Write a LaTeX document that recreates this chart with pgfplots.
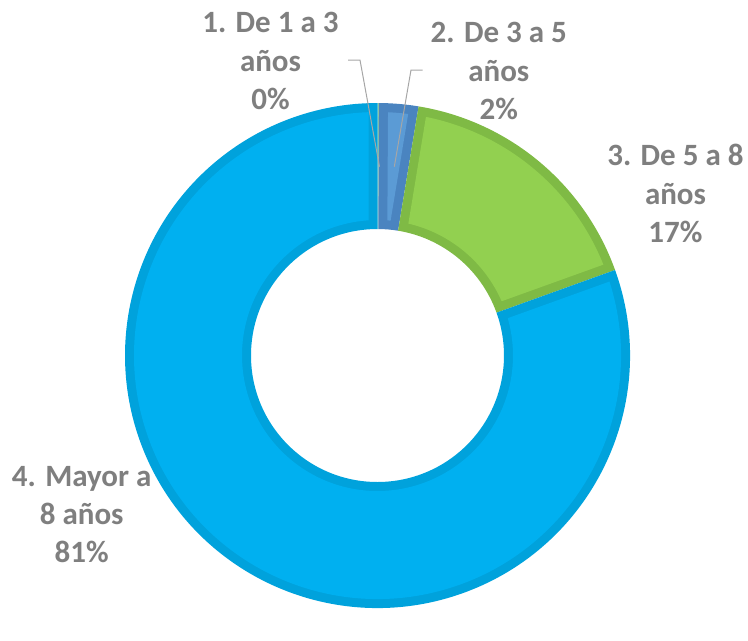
\documentclass[border=0pt]{standalone}
\usepackage{pgfplots}
\pgfplotsset{compat=1.18}
\usepackage{pgfplotstable}
\usepackage{fontspec}
\setmainfont{Carlito}
\usetikzlibrary{calc}
\definecolor{lblue}{HTML}{00B0F0}
\definecolor{dblue}{HTML}{00A2DC}
\definecolor{lgreen}{HTML}{92D050}
\definecolor{dgreen}{HTML}{7FBA45}
\definecolor{lsteel}{HTML}{5B9BD5}
\definecolor{dsteel}{HTML}{4A84C0}
\definecolor{sone}{HTML}{8CC3A0}
\definecolor{txt}{HTML}{7F7F7F}
\definecolor{leader}{HTML}{A6A6A6}

% share of each category (percent)
\pgfplotstableread{
slice value
1 0.1
2 2.5
3 16.9
4 80.5
}\donutdata

% outer border wedge (dark colour)
\newcommand\wedgeborder[3]{%
  \fill[#3] (axis cs:377.5,355.5) ++(#1:252.5pt)
    arc[start angle=#1, end angle=#2, radius=252.5pt]
    -- ($(axis cs:377.5,355.5)+(#2:126.5pt)$)
    arc[start angle=#2, end angle=#1, radius=126.5pt] -- cycle;}
% inner fill inset by 9pt (light colour)
\newcommand\wedgefill[3]{%
  \fill[#3] (axis cs:377.5,355.5) ++({#1-\dO}:243.5pt)
    arc[start angle={#1-\dO}, end angle={#2+\dO}, radius=243.5pt]
    -- ($(axis cs:377.5,355.5)+({#2+\dI}:135.5pt)$)
    arc[start angle={#2+\dI}, end angle={#1-\dI}, radius=135.5pt] -- cycle;}

\tikzset{lbl/.style={txt, anchor=base, inner sep=0pt,
  font=\fontsize{31}{37}\selectfont\bfseries}}

\begin{document}
\begin{tikzpicture}
\pgfplotstablegetelem{0}{value}\of\donutdata \let\vA\pgfplotsretval
\pgfplotstablegetelem{1}{value}\of\donutdata \let\vB\pgfplotsretval
\pgfplotstablegetelem{2}{value}\of\donutdata \let\vC\pgfplotsretval
\pgfplotstablegetelem{3}{value}\of\donutdata \let\vD\pgfplotsretval
\pgfmathsetmacro\aA{90}
\pgfmathsetmacro\aB{\aA-3.6*\vA}
\pgfmathsetmacro\aC{\aB-3.6*\vB}
\pgfmathsetmacro\aD{\aC-3.6*\vC}
\pgfmathsetmacro\aE{\aD-3.6*\vD}
\pgfmathsetmacro\dO{asin(9/243.5)}
\pgfmathsetmacro\dI{asin(9/135.5)}
\begin{axis}[width=748pt, height=609pt, scale only axis,
  xmin=0, xmax=748, ymin=0, ymax=609, y dir=reverse,
  hide axis, clip=false]
  \path (axis cs:0,0) rectangle (axis cs:748,609);
  % slice 1 (tiny)
  \wedgeborder{\aA}{\aB}{sone}
  % slice 2
  \wedgeborder{\aB}{\aC}{dsteel}
  \wedgefill{\aB}{\aC}{lsteel}
  % slice 3
  \wedgeborder{\aC}{\aD}{dgreen}
  \wedgefill{\aC}{\aD}{lgreen}
  % slice 4
  \wedgeborder{\aD}{\aE}{dblue}
  \wedgefill{\aD}{\aE}{lblue}
  % leader lines
  \draw[leader, line width=1pt] (axis cs:348,60) -- (axis cs:360,60) -- (axis cs:379.5,166.7);
  \draw[leader, line width=1pt] (axis cs:422.5,70) -- (axis cs:411,70) -- (axis cs:394.3,166.7);
  % labels
  \node[lbl] at (axis cs:270.5,32) {1. De 1 a 3};
  \node[lbl] at (axis cs:270.5,71) {años};
  \node[lbl] at (axis cs:270.5,109.5) {0\%};
  \node[lbl] at (axis cs:498.8,42.5) {2. De 3 a 5};
  \node[lbl] at (axis cs:498.8,81.5) {años};
  \node[lbl] at (axis cs:498.8,119.5) {2\%};
  \node[lbl] at (axis cs:675.5,165) {3. De 5 a 8};
  \node[lbl] at (axis cs:675.5,204) {años};
  \node[lbl] at (axis cs:675.5,242) {17\%};
  \node[lbl] at (axis cs:81.7,486.5) {4. Mayor a};
  \node[lbl] at (axis cs:81.7,524) {8 años};
  \node[lbl] at (axis cs:81.7,562) {81\%};
\end{axis}
\end{tikzpicture}
\end{document}
